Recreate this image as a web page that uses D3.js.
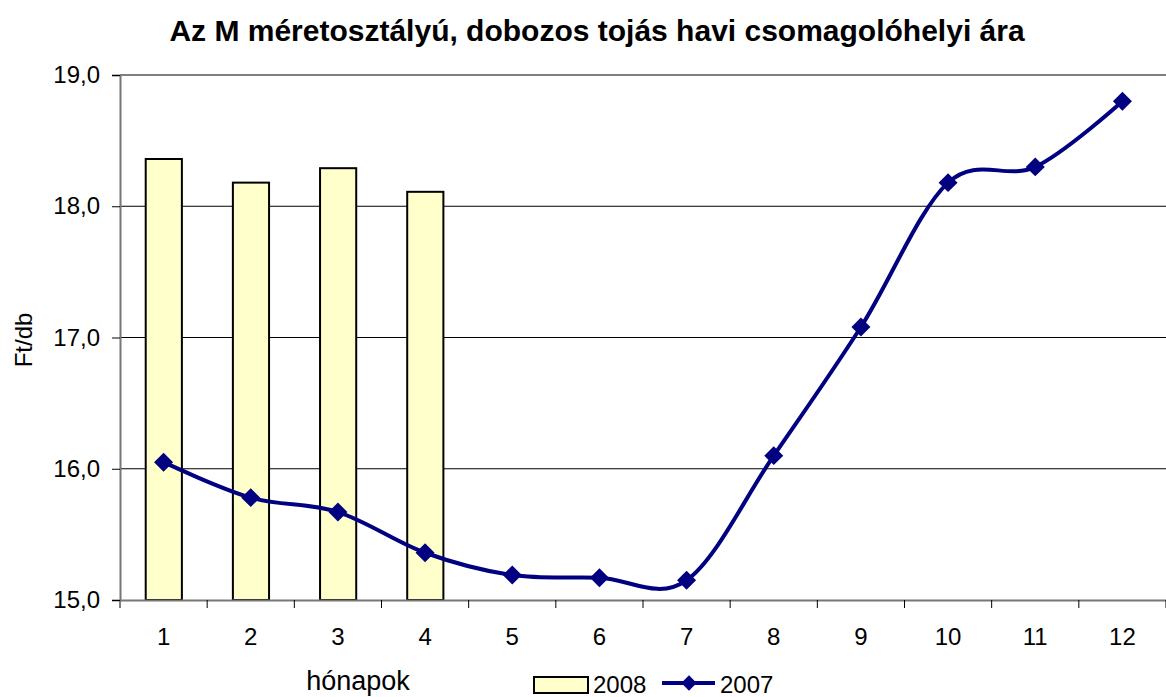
<!DOCTYPE html>
<html>
<head>
<meta charset="utf-8">
<script src="https://cdn.jsdelivr.net/npm/d3@7"></script>
<style>
body { margin: 0; background: #fff; }
text { font-family: "Liberation Sans", Arial, sans-serif; }
</style>
</head>
<body>
<script>
let width = 1166
let height = 697

let margin = {
    top: 75,
    right: 0,
    bottom: 97,
    left: 120
}

// adatok
const months = ["1", "2", "3", "4", "5", "6", "7", "8", "9", "10", "11", "12"]
const values2008 = [18.36, 18.18, 18.29, 18.11]
const values2007 = [16.05, 15.78, 15.67, 15.36, 15.19, 15.17, 15.15, 16.10, 17.08, 18.18, 18.30, 18.80]
const yTicks = [15, 16, 17, 18, 19]

const svg = d3.select("body").append("svg")
    .attr("width", width)
    .attr("height", height)

const x = d3.scaleBand()
    .domain(months)
    .range([margin.left, width - margin.right])

const y = d3.scaleLinear()
    .domain([15, 19])
    .range([height - margin.bottom, margin.top])

const fmt = d => d3.format(".1f")(d).replace(".", ",")

// rácsvonalak
svg.append("g")
    .selectAll("line")
    .data(yTicks.slice(1))
    .join("line")
    .attr("x1", margin.left)
    .attr("x2", width - margin.right)
    .attr("y1", d => y(d))
    .attr("y2", d => y(d))
    .attr("stroke", "#000")
    .attr("stroke-width", 1)

// oszlopok 2008
svg.append("g")
    .selectAll("rect")
    .data(values2008)
    .join("rect")
    .attr("x", (d, i) => x(months[i]) + x.bandwidth() * 0.295)
    .attr("width", x.bandwidth() * 0.415)
    .attr("y", d => y(d))
    .attr("height", d => y(15) - y(d))
    .attr("fill", "#FFFFCC")
    .attr("stroke", "#000")
    .attr("stroke-width", 2)

// tengelyek
const gx = svg.append("g")
    .attr("transform", `translate(0,${y(15)})`)
    .call(d3.axisBottom(x).tickSize(0).tickPadding(28))
gx.select(".domain").attr("stroke", "#777").attr("stroke-width", 2)
gx.selectAll("text").attr("font-size", 24).attr("fill", "#000")
    .attr("font-family", "Liberation Sans, Arial, sans-serif")
gx.append("g")
    .selectAll("line")
    .data(months.concat(["end"]))
    .join("line")
    .attr("x1", (d, i) => margin.left + i * x.step())
    .attr("x2", (d, i) => margin.left + i * x.step())
    .attr("y1", 0)
    .attr("y2", 8)
    .attr("stroke", "#000")

const gy = svg.append("g")
    .attr("transform", `translate(${margin.left},0)`)
    .call(d3.axisLeft(y).tickValues(yTicks).tickFormat(fmt).tickSize(8).tickPadding(12))
gy.select(".domain").attr("stroke", "#777").attr("stroke-width", 2)
gy.selectAll("line").attr("stroke", "#000")
gy.selectAll("text").attr("font-size", 24).attr("fill", "#000")
    .attr("font-family", "Liberation Sans, Arial, sans-serif")

// vonal 2007
const line = d3.line()
    .x((d, i) => x(months[i]) + x.bandwidth() / 2)
    .y(d => y(d))
    .curve(d3.curveCardinal.tension(0))

svg.append("path")
    .datum(values2007)
    .attr("d", line)
    .attr("fill", "none")
    .attr("stroke", "#000080")
    .attr("stroke-width", 4)

const diamond = d3.symbol().type(d3.symbolDiamond2).size(230)

svg.append("g")
    .selectAll("path")
    .data(values2007)
    .join("path")
    .attr("d", diamond)
    .attr("transform", (d, i) => `translate(${x(months[i]) + x.bandwidth() / 2},${y(d)})`)
    .attr("fill", "#000080")

// címek
svg.append("text")
    .attr("x", 597)
    .attr("y", 41)
    .attr("text-anchor", "middle")
    .attr("font-size", 30)
    .attr("font-weight", "bold")
    .text("Az M méretosztályú, dobozos tojás havi csomagolóhelyi ára")

svg.append("text")
    .attr("transform", `translate(32,340) rotate(-90)`)
    .attr("text-anchor", "middle")
    .attr("font-size", 24)
    .text("Ft/db")

svg.append("text")
    .attr("x", 358)
    .attr("y", 690)
    .attr("text-anchor", "middle")
    .attr("font-size", 27)
    .text("hónapok")

// jelmagyarázat
const legend = svg.append("g")
legend.append("rect")
    .attr("x", 534)
    .attr("y", 677)
    .attr("width", 54)
    .attr("height", 16)
    .attr("fill", "#FFFFCC")
    .attr("stroke", "#000")
    .attr("stroke-width", 2)
legend.append("text")
    .attr("x", 593)
    .attr("y", 693)
    .attr("font-size", 24)
    .text("2008")
legend.append("line")
    .attr("x1", 662)
    .attr("x2", 715)
    .attr("y1", 683)
    .attr("y2", 683)
    .attr("stroke", "#000080")
    .attr("stroke-width", 4)
legend.append("path")
    .attr("d", d3.symbol().type(d3.symbolDiamond2).size(150))
    .attr("transform", "translate(689,683)")
    .attr("fill", "#000080")
legend.append("text")
    .attr("x", 720)
    .attr("y", 693)
    .attr("font-size", 24)
    .text("2007")
</script>
</body>
</html>
